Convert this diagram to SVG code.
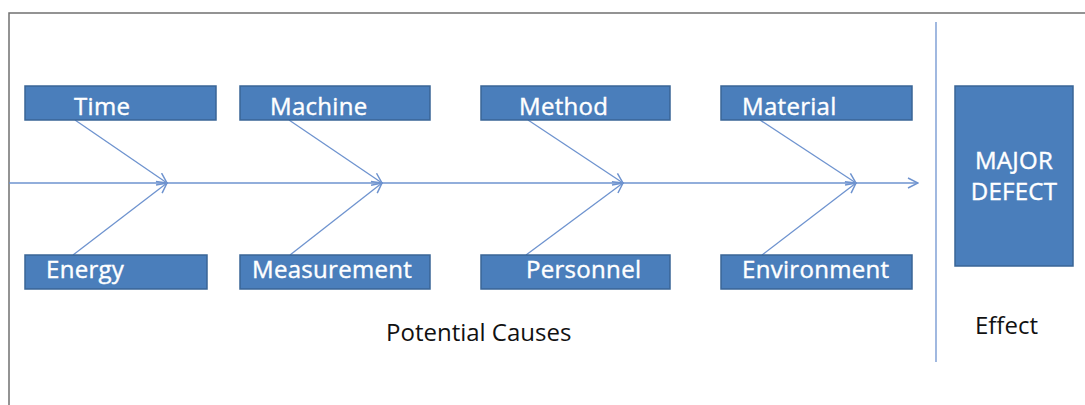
<svg xmlns="http://www.w3.org/2000/svg" width="1085" height="405" viewBox="0 0 1085 405">
<defs>
<style>
.box{fill:#4a7ebb;stroke:#3a6596;stroke-width:1.5}
.lbl{font-family:"Open Sans",sans-serif;font-size:24px;fill:#ffffff;stroke:#ffffff;stroke-width:0.4;letter-spacing:0.3px}
.cap{font-family:"Open Sans",sans-serif;font-size:24px;fill:#111111}
.ln{stroke:#6e93cf;stroke-width:1.3;fill:none}
</style>
<marker id="ah" viewBox="0 0 12 12" refX="11" refY="6" markerWidth="12" markerHeight="12" markerUnits="userSpaceOnUse" orient="auto">
<path d="M1,1 L11,6 L1,11" fill="none" stroke="#6e93cf" stroke-width="1.5"/>
</marker>
</defs>
<rect width="1085" height="405" fill="#ffffff"/>
<rect x="9" y="13" width="1100" height="420" fill="none" stroke="#707070" stroke-width="1.5"/>
<g id="connectors">
<line class="ln" x1="9" y1="183" x2="918" y2="183" marker-end="url(#ah)"/>
<line class="ln" x1="75" y1="120" x2="167" y2="183" marker-end="url(#ah)"/>
<line class="ln" x1="73" y1="255" x2="167" y2="183" marker-end="url(#ah)"/>
<line class="ln" x1="289" y1="120" x2="382" y2="183" marker-end="url(#ah)"/>
<line class="ln" x1="290" y1="255" x2="382" y2="183" marker-end="url(#ah)"/>
<line class="ln" x1="528" y1="120" x2="623" y2="183" marker-end="url(#ah)"/>
<line class="ln" x1="526" y1="255" x2="623" y2="183" marker-end="url(#ah)"/>
<line class="ln" x1="760" y1="120" x2="856" y2="183" marker-end="url(#ah)"/>
<line class="ln" x1="762" y1="255" x2="856" y2="183" marker-end="url(#ah)"/>
<line class="ln" x1="936" y1="22" x2="936" y2="362"/>
</g>
<g id="time"><rect class="box" x="25" y="86" width="191" height="34"/><text class="lbl" x="74" y="115">Time</text></g>
<g id="machine"><rect class="box" x="240" y="86" width="190" height="34"/><text class="lbl" x="270" y="115">Machine</text></g>
<g id="method"><rect class="box" x="481" y="86" width="189" height="34"/><text class="lbl" x="519" y="115">Method</text></g>
<g id="material"><rect class="box" x="721" y="86" width="191" height="34"/><text class="lbl" x="742" y="115">Material</text></g>
<g id="energy"><rect class="box" x="25" y="255" width="182" height="34"/><text class="lbl" x="46" y="278">Energy</text></g>
<g id="measurement"><rect class="box" x="240" y="255" width="190" height="34"/><text class="lbl" x="252" y="278">Measurement</text></g>
<g id="personnel"><rect class="box" x="481" y="255" width="189" height="34"/><text class="lbl" x="526" y="278">Personnel</text></g>
<g id="environment"><rect class="box" x="721" y="255" width="191" height="34"/><text class="lbl" x="742" y="278">Environment</text></g>
<g id="major-defect"><rect class="box" x="955" y="86" width="118" height="180"/><text class="lbl" x="1014" y="169" text-anchor="middle">MAJOR</text><text class="lbl" x="1014" y="200" text-anchor="middle">DEFECT</text></g>
<text class="cap" x="386" y="341">Potential Causes</text>
<text class="cap" x="975" y="334">Effect</text>
</svg>
